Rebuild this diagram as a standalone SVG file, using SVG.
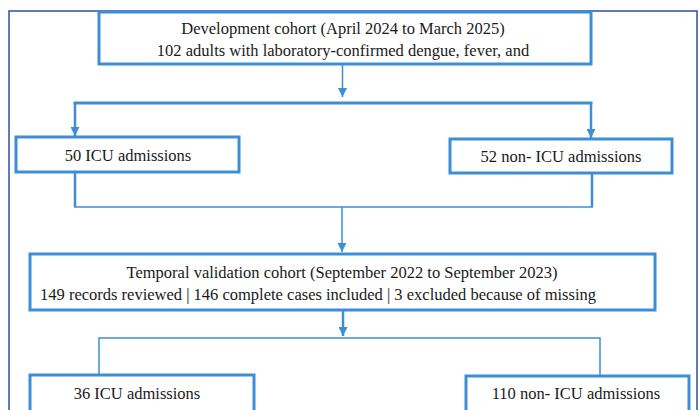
<svg xmlns="http://www.w3.org/2000/svg" width="699" height="410" viewBox="0 0 699 410">
<defs>
<style>
.box{fill:#fff;stroke:#3e8ed6;stroke-width:3}
.t{font-family:"Liberation Serif","Times New Roman",serif;font-size:16.5px;fill:#1a1a1a;text-anchor:middle}
.c{stroke:#3e8ed6;fill:none}
</style>
<marker id="arr" viewBox="0 0 10 10" markerWidth="9" markerHeight="9" refX="10" refY="5" orient="auto" markerUnits="userSpaceOnUse">
<path d="M0,0 L10,5 L0,10 z" fill="#3e8ed6"/>
</marker>
</defs>
<rect width="699" height="410" fill="#fff"/>
<rect x="9" y="11" width="688" height="420" fill="none" stroke="#2b50a3" stroke-width="1.5"/>
<g id="connectors">
<line class="c" x1="342.5" y1="64" x2="342.5" y2="97" stroke-width="1.5" marker-end="url(#arr)"/>
<line class="c" x1="73.5" y1="103" x2="592.5" y2="103" stroke-width="3"/>
<line class="c" x1="75" y1="103" x2="75" y2="136" stroke-width="2.5" marker-end="url(#arr)"/>
<line class="c" x1="591" y1="103" x2="591" y2="138" stroke-width="2.5" marker-end="url(#arr)"/>
<line class="c" x1="75" y1="172" x2="75" y2="207" stroke-width="2.5"/>
<line class="c" x1="592" y1="174" x2="592" y2="207" stroke-width="2.5"/>
<line class="c" x1="74" y1="207" x2="593" y2="207" stroke-width="1.5"/>
<line class="c" x1="342" y1="207" x2="342" y2="252" stroke-width="1.5" marker-end="url(#arr)"/>
<line class="c" x1="343" y1="310" x2="343" y2="336" stroke-width="2.5" marker-end="url(#arr)"/>
<polyline class="c" points="99,375 99,338 600,338 600,375" stroke-width="1.5"/>
</g>
<g id="dev">
<rect class="box" x="99" y="12" width="492" height="52"/>
<text class="t" x="343" y="34">Development cohort (April 2024 to March 2025)</text>
<text class="t" x="343" y="56">102 adults with laboratory-confirmed dengue, fever, and</text>
</g>
<g id="icu1">
<rect class="box" x="16" y="137" width="223" height="35"/>
<text class="t" x="128" y="161">50 ICU admissions</text>
</g>
<g id="nonicu1">
<rect class="box" x="450" y="139" width="222" height="34"/>
<text class="t" x="561" y="162">52 non- ICU admissions</text>
</g>
<g id="temporal">
<rect class="box" x="30" y="254" width="625" height="56"/>
<text class="t" x="342" y="278">Temporal validation cohort (September 2022 to September 2023)</text>
<text class="t" x="318" y="300">149 records reviewed | 146 complete cases included | 3 excluded because of missing</text>
</g>
<g id="icu2">
<rect class="box" x="30" y="375" width="224" height="50"/>
<text class="t" x="137" y="399">36 ICU admissions</text>
</g>
<g id="nonicu2">
<rect class="box" x="466" y="376" width="223" height="50"/>
<text class="t" x="576" y="399">110 non- ICU admissions</text>
</g>
</svg>
